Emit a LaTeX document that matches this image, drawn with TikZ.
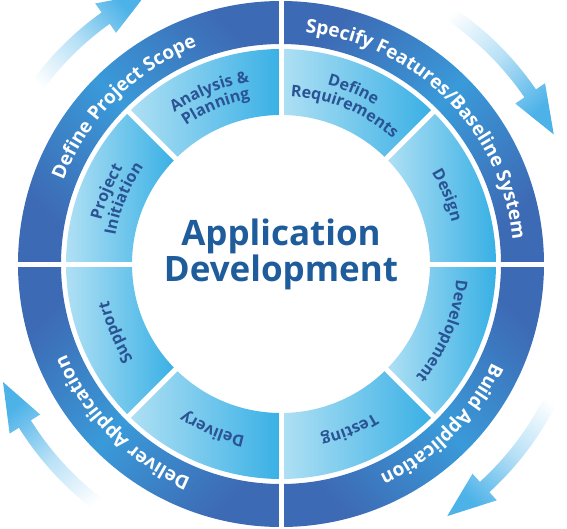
\documentclass[tikz,border=0pt]{standalone}
\usepackage{fontspec}
\setmainfont{Open Sans}
\setsansfont{Open Sans}
\usetikzlibrary{decorations.text}

\begin{document}
\begin{tikzpicture}[
    x=1pt, y=1pt,
    font=\sffamily,
    phase/.style={decorate, decoration={text along path, text align=center,
        text={|\bfseries\color{white}\fontsize{19}{19}\selectfont|#1}}},
    stage/.style={decorate, decoration={text along path, text align=center,
        text={|\bfseries\color{labelBlue}\fontsize{16}{16}\selectfont|#1}}}
]

    % Parameters
    \def\outerR{263}
    \def\outerr{220}
    \def\innerR{215}
    \def\innerr{149}
    \def\phaseR{233}
    \def\gapW{5}

    % Define colors
    \definecolor{ringDark}{HTML}{3D6AB4}
    \definecolor{ringMid}{HTML}{3A9AD9}
    \definecolor{segLight}{HTML}{B0E0F4}
    \definecolor{segDeep}{HTML}{38B0E5}
    \definecolor{labelBlue}{HTML}{2A5394}
    \definecolor{titleBlue}{HTML}{1F5C9C}
    \definecolor{arrowBlue}{HTML}{4CB2E8}

    \useasboundingbox (-281,-264) rectangle (286,264);
    \clip (-281,-264) rectangle (286,264);

    % 1. Outer ring, one quarter per phase
    \foreach \a/\ang in {90/-45, 0/45, -90/-45, 180/45} {
        \path[top color=ringDark, bottom color=ringDark, middle color=ringMid, shading angle=\ang]
            (\a:\outerR) arc[start angle=\a, end angle=\a+90, radius=\outerR]
            -- (\a+90:\outerr) arc[start angle=\a+90, end angle=\a, radius=\outerr] -- cycle;
    }

    % Inner ring, eight stages
    \foreach \a in {0,45,...,315} {
        \path[left color=segLight, right color=segDeep]
            (\a:\innerR) arc[start angle=\a, end angle=\a+45, radius=\innerR]
            -- (\a+45:\innerr) arc[start angle=\a+45, end angle=\a, radius=\innerr] -- cycle;
    }

    % White gaps
    \foreach \a in {0,90,180,270}
        \draw[white, line width=\gapW] (0,0) -- (\a:\outerR+5);
    \foreach \a in {45,135,225,315}
        \draw[white, line width=\gapW] (0,0) -- (\a:\innerR+2);

    % 2. Cycle arrows, fading in from the tail
    \foreach \t/\h [evaluate=\h as \b using \h+9, evaluate=\t as \s using (\t+\h)/2-180] in {147/116.5, 60/25.4, -23/-56.6, 236/203} {
        \path[bottom color=white, top color=arrowBlue, middle color=arrowBlue!40, shading angle=\s]
            (\t:295) arc[start angle=\t, end angle=\b, radius=295]
            -- (\b:284) -- (\h:302) -- (\b:320) -- (\b:309)
            arc[start angle=\b, end angle=\t, radius=309] -- cycle;
    }

    % 3. Phase labels (outer ring)
    \path[phase={Define Project Scope}] (185:\phaseR) arc[start angle=185, end angle=85, radius=\phaseR];
    \path[phase={Specify Features/Baseline System}] (95:\phaseR) arc[start angle=95, end angle=-5, radius=\phaseR];
    \path[phase={Build Application}] (5:\phaseR) arc[start angle=5, end angle=-95, radius=\phaseR];
    \path[phase={Deliver Application}] (275:\phaseR) arc[start angle=275, end angle=175, radius=\phaseR];

    % 4. Stage labels (inner ring)
    \path[stage={Analysis {\&}}] (152.5:185) arc[start angle=152.5, end angle=72.5, radius=185];
    \path[stage={Planning}] (152.5:168) arc[start angle=152.5, end angle=72.5, radius=168];
    \path[stage={Define}] (107.5:185) arc[start angle=107.5, end angle=27.5, radius=185];
    \path[stage={Requirements}] (107.5:168) arc[start angle=107.5, end angle=27.5, radius=168];
    \path[stage={Design}] (62.5:176) arc[start angle=62.5, end angle=-17.5, radius=176];
    \path[stage={Development}] (17.5:176) arc[start angle=17.5, end angle=-62.5, radius=176];
    \path[stage={Testing}] (-27.5:176) arc[start angle=-27.5, end angle=-107.5, radius=176];
    \path[stage={Delivery}] (-72.5:176) arc[start angle=-72.5, end angle=-152.5, radius=176];
    \path[stage={Support}] (-117.5:176) arc[start angle=-117.5, end angle=-197.5, radius=176];
    \path[stage={Project}] (197.5:185) arc[start angle=197.5, end angle=117.5, radius=185];
    \path[stage={Initiation}] (197.5:168) arc[start angle=197.5, end angle=117.5, radius=168];

    % 5. Title
    \node[font=\bfseries\fontsize{35}{31}\selectfont, text=titleBlue, align=center] (apptitle) at (0,10) {Application\\Development};

\end{tikzpicture}
\end{document}
